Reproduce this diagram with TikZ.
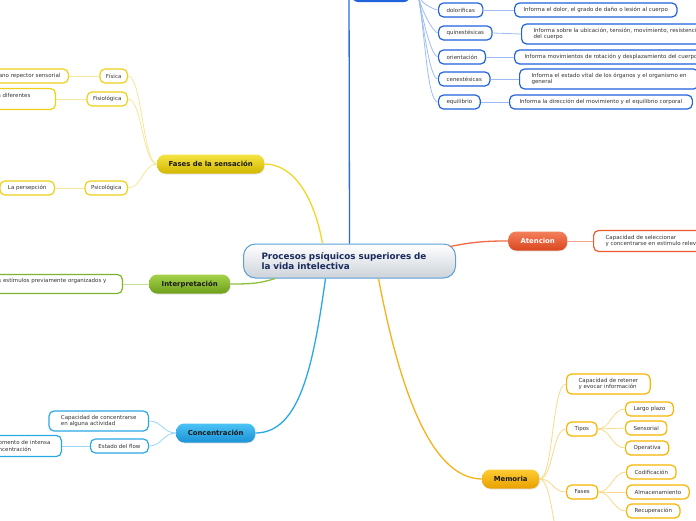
\documentclass[tikz,border=0pt]{standalone}
\usepackage{fontspec}
\setmainfont{DejaVu Sans}
\usetikzlibrary{shadows}
\definecolor{txt}{HTML}{333333}
\definecolor{navy}{HTML}{1A2A5C}
\definecolor{cborder}{HTML}{5A9FD8}
\definecolor{cgray}{HTML}{CCD3DA}
\definecolor{bdark}{HTML}{1F62DB}
\definecolor{bline}{HTML}{2A6BE0}
\definecolor{bsub}{HTML}{9DBDF2}
\definecolor{atop}{HTML}{F47F5C}
\definecolor{abot}{HTML}{D9461E}
\definecolor{aborder}{HTML}{EA5A2E}
\definecolor{aline}{HTML}{F06A45}
\definecolor{asub}{HTML}{F5A58C}
\definecolor{mtop}{HTML}{FFCC33}
\definecolor{mbot}{HTML}{E8A000}
\definecolor{mborder}{HTML}{F7B500}
\definecolor{mline}{HTML}{F5B21C}
\definecolor{msub}{HTML}{F9D98A}
\definecolor{ctop}{HTML}{4CC3F5}
\definecolor{cbot}{HTML}{1A92D6}
\definecolor{cbord}{HTML}{2AA8E6}
\definecolor{cline}{HTML}{2AA8E6}
\definecolor{csub}{HTML}{9AD6F3}
\definecolor{itop}{HTML}{A5D24A}
\definecolor{ibot}{HTML}{6E9F1C}
\definecolor{iborder}{HTML}{7DB52A}
\definecolor{iline}{HTML}{8DC03A}
\definecolor{isub}{HTML}{C2E08E}
\definecolor{ftop}{HTML}{F5E444}
\definecolor{fbot}{HTML}{D2B700}
\definecolor{fborder}{HTML}{EDD017}
\definecolor{fline}{HTML}{F0D52A}
\definecolor{fsub}{HTML}{F5E79A}
\begin{document}
\begin{tikzpicture}[x=1pt,y=-1pt,
  leaf/.style={draw, rounded corners=5pt, line width=1.2pt, fill=white,
    font=\fontsize{5.5}{6.6}\selectfont, text=txt, inner ysep=0pt,
    minimum height=14pt, inner xsep=8pt, align=left},
  branch/.style={rounded corners=8pt, font=\bfseries\fontsize{6.9}{7.5}\selectfont,
    minimum height=19pt, inner sep=0pt, anchor=west,
    drop shadow={opacity=0.2, shadow xshift=0.6pt, shadow yshift=-1pt}},
  mainline/.style={line width=1.3pt},
  subline/.style={line width=0.8pt},
]
\clip (0,0) rectangle (696,520);
\useasboundingbox (0,0) rectangle (696,520);

% central node
\node[shade, top color=white, bottom color=cgray, draw=cborder, line width=1pt,
  rounded corners=12pt, text width=176pt, inner xsep=18pt, minimum height=34pt,
  font=\bfseries\fontsize{8.8}{10.5}\selectfont, text=navy, align=left, anchor=west]
  (c) at (243,261) {Procesos psíquicos superiores de\\la vida intelectiva};

% top (cut) branch
\node[fill=bdark, rounded corners=6pt, minimum width=58pt, minimum height=20pt]
  (t) at (381,-8) {};
\coordinate (ttop) at (349,-20);
\coordinate (tb) at (418,-6);
\draw[mainline, bline] (c.north) -- (ttop);

\begin{scope}[every node/.append style={leaf, draw=bdark, anchor=west}]
\node (dol) at (438,10) {dolorificas};
\node (qui) at (438,33) {quinestésicas};
\node (ori) at (438,57) {orientación};
\node (cen) at (438,79) {cenestésicas};
\node (equ) at (438,102) {equilibrio};
\node[inner xsep=9pt] (d1) at (514,10) {Informa el dolor, el grado de daño o lesión al cuerpo};
\node[inner xsep=12pt, minimum height=20pt] (d2) at (521,34) {Informa sobre la ubicación, tensión, movimiento, resistencia\\del cuerpo};
\node[inner xsep=10pt] (d3) at (514,57) {Informa movimientos de rotación y desplazamiento del cuerpo};
\node[inner xsep=12pt, minimum height=20pt] (d4) at (519,79) {Informa el estado vital de los órganos y el organismo en\\general};
\node[inner xsep=10pt] (d5) at (509,102) {Informa la dirección del movimiento y el equilibrio corporal};
\end{scope}
\foreach \n in {dol,qui,ori,cen,equ}
  \draw[subline, bsub] (tb) to[out=-80, in=180, in looseness=0.25] (\n.west);
\draw[subline, bsub] (dol.east) -- (d1.west);
\draw[subline, bsub] (qui.east) -- (d2.west);
\draw[subline, bsub] (ori.east) -- (d3.west);
\draw[subline, bsub] (cen.east) -- (d4.west);
\draw[subline, bsub] (equ.east) -- (d5.west);

% Atencion
\node[branch, shade, top color=atop, bottom color=abot, text=white, minimum width=59pt]
  (at) at (508,241) {Atencion};
\node[leaf, draw=aborder, anchor=west, inner xsep=12pt, minimum height=21pt]
  (ad) at (593,241) {Capacidad de seleccionar\\y concentrarse en estimulo relevante};
\draw[mainline, aline] ([xshift=-6pt,yshift=-3pt]c.north east) .. controls +(25,-5) and +(-20,0) .. (at.west);
\draw[subline, asub] (at.east) -- (ad.west);

% Memoria
\node[branch, shade, top color=mtop, bottom color=mbot, text=black!90, minimum width=57pt]
  (m) at (482,479) {Memoria};
\begin{scope}[every node/.append style={leaf, draw=mborder, anchor=west}]
\node[inner xsep=12pt, minimum height=20pt] (mcap) at (566,384) {Capacidad de retener\\y evocar información};
\node (tipos) at (566,429) {Tipos};
\node (mfa) at (566,492) {Fases};
\node (largo) at (625,409) {Largo plazo};
\node (sens) at (625,428) {Sensorial};
\node (oper) at (625,448) {Operativa};
\node (cod) at (626,472) {Codificación};
\node (alm) at (626,492) {Almacenamiento};
\node (rec) at (626,511) {Recuperación};
\end{scope}
\coordinate (mdown) at (566,548);
\draw[mainline, mline] ([xshift=29pt]c.south) .. controls +(18,95) and +(-55,0) .. (m.west);
\foreach \n in {mcap,tipos,mfa,mdown}
  \draw[subline, msub] (m.east) .. controls +(14,0) and +(-14,0) .. (\n.west);
\foreach \n in {largo,sens,oper}
  \draw[subline, msub] (tipos.east) .. controls +(13,0) and +(-13,0) .. (\n.west);
\foreach \n in {cod,alm,rec}
  \draw[subline, msub] (mfa.east) .. controls +(13,0) and +(-13,0) .. (\n.west);

% Concentracion
\node[branch, shade, top color=ctop, bottom color=cbot, text=black!90, minimum width=79pt]
  (co) at (176,433) {Concentración};
\begin{scope}[every node/.append style={leaf, draw=cbord, anchor=east}]
\node[inner xsep=12pt, minimum height=20pt] (ccap) at (149,421) {Capacidad de concentrarse\\en alguna actividad};
\node (flow) at (149,446) {Estado del flow};
\node[inner xsep=11pt, minimum height=21pt] (mom) at (62,446) {omento de intensa\\ncentración};
\end{scope}
\draw[mainline, cline] ([xshift=-24pt]c.south) .. controls +(-12,85) and +(45,0) .. (co.east);
\draw[subline, csub] (co.west) .. controls +(-13,0) and +(13,0) .. (ccap.east);
\draw[subline, csub] (co.west) .. controls +(-13,0) and +(13,0) .. (flow.east);
\draw[subline, csub] (flow.west) -- (mom.east);

% Interpretacion
\node[branch, shade, top color=itop, bottom color=ibot, text=black!90, minimum width=81pt]
  (ip) at (149,284) {Interpretación};
\node[leaf, draw=iborder, anchor=east, inner xsep=16pt, minimum height=19pt]
  (ipc) at (123,284) {s estímulos previamente organizados y\\\mbox{}};
\draw[mainline, iline] ([xshift=32pt]c.south west) .. controls +(-15,5) and +(20,0) .. (ip.east);
\draw[subline, isub] (ip.west) -- (ipc.east);

% Fases de la sensacion
\node[branch, shade, top color=ftop, bottom color=fbot, text=black!90, minimum width=107pt]
  (fs) at (157,164) {Fases de la sensación};
\begin{scope}[every node/.append style={leaf, draw=fborder, anchor=east}]
\node[inner xsep=6pt] (fis) at (128,76) {Física};
\node[inner xsep=6pt] (fisio) at (128,99) {Fisiológica};
\node[inner xsep=6pt] (psico) at (128,188) {Psicológica};
\node (ano) at (69,76) {ano repector sensorial};
\node[inner xsep=25pt, minimum height=21pt] (ndif) at (56,99) {n diferentes\\\mbox{}};
\node (lap) at (55,188) {La persepción};
\end{scope}
\draw[mainline, fline] ([xshift=-27pt]c.north) .. controls +(-8,-45) and +(30,0) .. (fs.east);
\foreach \n in {fis,fisio,psico}
  \draw[subline, fsub] (fs.west) .. controls +(-14,0) and +(14,0) .. (\n.east);
\draw[subline, fsub] (fis.west) -- (ano.east);
\draw[subline, fsub] (fisio.west) -- (ndif.east);
\draw[subline, fsub] (psico.west) -- (lap.east);
\end{tikzpicture}
\end{document}
